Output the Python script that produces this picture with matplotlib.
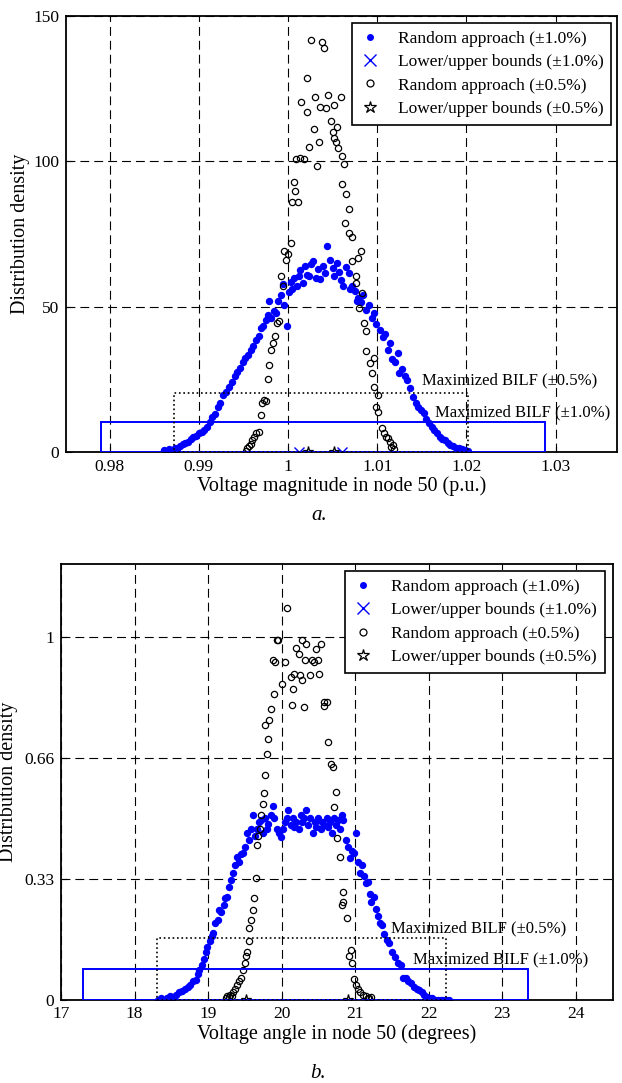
import numpy as np
import matplotlib
matplotlib.use('Agg')
import matplotlib.pyplot as plt
from matplotlib.patches import Rectangle
from matplotlib.lines import Line2D

plt.rcParams['font.family'] = ['Liberation Serif', 'DejaVu Serif']
plt.rcParams['mathtext.fontset'] = 'stix'

# ---- (a) voltage magnitude ------------------------------------------------
mag_rand10_x = [0.9861, 0.9864, 0.9867, 0.9870, 0.9873, 0.9876, 0.9879, 0.9882, 0.9885, 0.9888,
                0.9891, 0.9894, 0.9897, 0.9900, 0.9903, 0.9906, 0.9909, 0.9912, 0.9915, 0.9918,
                0.9921, 0.9924, 0.9927, 0.9930, 0.9934, 0.9937, 0.9940, 0.9943, 0.9946, 0.9949,
                0.9952, 0.9955, 0.9958, 0.9961, 0.9964, 0.9967, 0.9970, 0.9972, 0.9975, 0.9977,
                0.9979, 0.9981, 0.9984, 0.9987, 0.9989, 0.9992, 0.9994, 0.9996, 0.9999, 1.0001,
                1.0003, 1.0005, 1.0007, 1.0010, 1.0012, 1.0014, 1.0017, 1.0019, 1.0021, 1.0024,
                1.0026, 1.0028, 1.0031, 1.0034, 1.0036, 1.0039, 1.0042, 1.0044, 1.0047, 1.0050,
                1.0052, 1.0055, 1.0057, 1.0059, 1.0062, 1.0065, 1.0068, 1.0070, 1.0072, 1.0075,
                1.0077, 1.0079, 1.0082, 1.0084, 1.0088, 1.0091, 1.0094, 1.0096, 1.0099, 1.0103,
                1.0106, 1.0109, 1.0112, 1.0114, 1.0117, 1.0120, 1.0123, 1.0125, 1.0128, 1.0131,
                1.0134, 1.0137, 1.0140, 1.0143, 1.0146, 1.0149, 1.0152, 1.0155, 1.0158, 1.0161,
                1.0164, 1.0167, 1.0170, 1.0173, 1.0176, 1.0179, 1.0182, 1.0185, 1.0188, 1.0192,
                1.0195, 1.0199, 1.0202]
mag_rand10_y = [0.8, 0.3, 1.0, 0.5, 1.5, 1.2, 2.0, 2.6, 3.0, 3.4,
                4.5, 5.0, 5.5, 6.5, 7.0, 7.6, 8.5, 10.5, 12.0, 13.0,
                15.6, 17.0, 19.5, 20.5, 22.5, 24.0, 26.0, 27.5, 29.0, 31.0,
                32.3, 33.5, 35.0, 36.3, 38.5, 40.0, 42.5, 43.2, 45.5, 47.0,
                51.8, 46.0, 48.5, 47.8, 52.0, 54.0, 57.6, 50.5, 43.2, 55.0,
                58.5, 55.9, 60.0, 57.0, 60.5, 62.5, 58.0, 63.9, 61.0, 60.5,
                64.5, 65.6, 60.0, 62.8, 59.5, 64.0, 61.5, 71.0, 66.0, 63.3,
                60.5, 65.0, 62.0, 59.3, 57.0, 63.5, 61.6, 56.0, 57.0, 55.5,
                52.0, 53.0, 51.5, 54.0, 49.0, 50.5, 46.0, 47.8, 44.0, 42.1,
                39.5, 40.5, 35.0, 37.5, 32.0, 31.0, 34.0, 27.1, 28.5, 26.0,
                24.8, 22.0, 19.0, 16.8, 15.5, 14.5, 13.3, 11.5, 10.0, 8.7,
                7.5, 6.5, 5.3, 4.5, 4.0, 3.0, 2.5, 2.0, 1.5, 1.3,
                1.0, 0.7, 0.4]

mag_rand05_x = [0.9953, 0.9954, 0.9956, 0.9958, 0.9960, 0.9962, 0.9964, 0.9968, 0.9970, 0.9971,
                0.9973, 0.9975, 0.9977, 0.9979, 0.9981, 0.9983, 0.9985, 0.9988, 0.9990, 0.9992,
                0.9994, 0.9996, 0.9998, 1.0000, 1.0003, 1.0005, 1.0007, 1.0008, 1.0009, 1.0011,
                1.0013, 1.0015, 1.0018, 1.0021, 1.0021, 1.0023, 1.0026, 1.0029, 1.0030, 1.0032,
                1.0035, 1.0036, 1.0038, 1.0040, 1.0043, 1.0045, 1.0048, 1.0050, 1.0052, 1.0052,
                1.0054, 1.0055, 1.0056, 1.0059, 1.0060, 1.0061, 1.0063, 1.0064, 1.0065, 1.0068,
                1.0068, 1.0072, 1.0072, 1.0076, 1.0076, 1.0079, 1.0080, 1.0082, 1.0083, 1.0085,
                1.0088, 1.0088, 1.0092, 1.0094, 1.0096, 1.0096, 1.0099, 1.0101, 1.0101, 1.0105,
                1.0108, 1.0110, 1.0112, 1.0114, 1.0116, 1.0119, 1.0118]
mag_rand05_y = [0.5, 1.3, 2.0, 2.8, 4.1, 5.0, 6.5, 7.0, 12.8, 17.0,
                17.9, 17.5, 25.0, 30.0, 35.0, 37.5, 40.0, 44.4, 45.0, 60.5,
                57.0, 69.1, 66.0, 68.0, 72.0, 85.8, 92.7, 89.8, 100.9, 86.0,
                101.0, 120.2, 100.9, 116.8, 128.5, 104.7, 141.8, 111.0, 122.2, 98.4,
                106.7, 118.5, 140.9, 139.0, 118.1, 122.8, 113.7, 110.1, 119.3, 108.1,
                106.7, 111.6, 104.5, 122.0, 101.8, 92.1, 99.0, 78.9, 88.6, 83.7,
                75.4, 74.0, 65.6, 60.5, 58.2, 66.8, 49.5, 69.1, 54.7, 44.4,
                41.5, 34.6, 30.6, 27.1, 22.5, 32.3, 15.6, 19.7, 13.9, 8.2,
                6.4, 5.0, 4.7, 3.6, 1.8, 0.9, 2.5]

mag_bounds10 = [1.0012, 1.0061]
mag_bounds05 = [1.0022, 1.0052]
mag_bilf10 = (0.9790, 1.0288, 10.5)   # left, right, height
mag_bilf05 = (0.9872, 1.0202, 20.3)

# ---- (b) voltage angle ----------------------------------------------------
ang_rand10_x = [18.32, 18.36, 18.40, 18.44, 18.48, 18.52, 18.56, 18.60, 18.64, 18.68,
                18.72, 18.75, 18.79, 18.83, 18.86, 18.88, 18.91, 18.94, 18.97, 18.99,
                19.02, 19.05, 19.07, 19.10, 19.13, 19.15, 19.18, 19.21, 19.23, 19.26,
                19.28, 19.31, 19.34, 19.36, 19.39, 19.42, 19.45, 19.48, 19.50, 19.53,
                19.56, 19.58, 19.61, 19.64, 19.66, 19.69, 19.72, 19.75, 19.77, 19.80,
                19.82, 19.85, 19.88, 19.90, 19.93, 19.96, 19.99, 20.02, 20.04, 20.07,
                20.09, 20.12, 20.15, 20.17, 20.20, 20.23, 20.26, 20.28, 20.31, 20.33,
                20.36, 20.39, 20.42, 20.45, 20.47, 20.50, 20.53, 20.55, 20.58, 20.61,
                20.63, 20.66, 20.69, 20.71, 20.74, 20.76, 20.79, 20.82, 20.84, 20.87,
                20.90, 20.93, 20.96, 20.98, 21.01, 21.04, 21.07, 21.09, 21.12, 21.15,
                21.17, 21.20, 21.22, 21.25, 21.28, 21.31, 21.34, 21.36, 21.39, 21.43,
                21.46, 21.50, 21.54, 21.58, 21.62, 21.65, 21.69, 21.72, 21.76, 21.80,
                21.84, 21.87, 21.91, 21.94, 21.97, 22.01, 22.05, 22.08, 22.12, 22.16,
                22.20, 22.24, 22.27]
ang_rand10_y = [0.0, 0.003, 0.0, 0.005, 0.010, 0.008, 0.012, 0.020, 0.024, 0.030,
                0.035, 0.040, 0.050, 0.054, 0.070, 0.081, 0.095, 0.113, 0.130, 0.145,
                0.160, 0.175, 0.182, 0.210, 0.219, 0.247, 0.240, 0.260, 0.280, 0.283,
                0.310, 0.330, 0.348, 0.370, 0.393, 0.380, 0.400, 0.403, 0.420, 0.458,
                0.440, 0.470, 0.508, 0.450, 0.470, 0.490, 0.494, 0.460, 0.500, 0.470,
                0.485, 0.510, 0.533, 0.500, 0.470, 0.460, 0.448, 0.470, 0.490, 0.500,
                0.522, 0.480, 0.500, 0.476, 0.490, 0.470, 0.510, 0.490, 0.500, 0.522,
                0.480, 0.500, 0.460, 0.490, 0.476, 0.500, 0.470, 0.490, 0.480, 0.500,
                0.476, 0.490, 0.460, 0.500, 0.480, 0.494, 0.470, 0.510, 0.494, 0.440,
                0.421, 0.390, 0.410, 0.403, 0.458, 0.380, 0.350, 0.371, 0.340, 0.320,
                0.325, 0.290, 0.270, 0.283, 0.250, 0.230, 0.210, 0.205, 0.180, 0.165,
                0.155, 0.130, 0.118, 0.100, 0.095, 0.058, 0.060, 0.050, 0.045, 0.035,
                0.030, 0.026, 0.020, 0.012, 0.008, 0.005, 0.003, 0.0, 0.0, 0.0,
                0.0, 0.0, 0.0]

ang_rand05_x = [19.24, 19.26, 19.28, 19.30, 19.32, 19.34, 19.37, 19.39, 19.42, 19.45,
                19.48, 19.50, 19.51, 19.53, 19.55, 19.56, 19.58, 19.61, 19.63, 19.65,
                19.66, 19.68, 19.70, 19.72, 19.74, 19.76, 19.78, 19.80, 19.82, 19.78,
                19.83, 19.86, 19.89, 19.88, 19.91, 19.93, 19.95, 20.00, 20.04, 20.07,
                20.12, 20.14, 20.15, 20.17, 20.20, 20.24, 20.25, 20.28, 20.28, 20.30,
                20.32, 20.33, 20.39, 20.41, 20.44, 20.47, 20.50, 20.51, 20.53, 20.57,
                20.58, 20.61, 20.63, 20.67, 20.70, 20.71, 20.74, 20.75, 20.79, 20.82,
                20.84, 20.84, 20.89, 20.91, 20.94, 20.95, 20.98, 21.01, 21.04, 21.06,
                21.10, 21.14, 21.17, 21.19, 21.21]
ang_rand05_y = [0.005, 0.010, 0.008, 0.012, 0.010, 0.020, 0.030, 0.040, 0.050, 0.060,
                0.080, 0.100, 0.120, 0.132, 0.160, 0.196, 0.220, 0.247, 0.280, 0.334,
                0.426, 0.450, 0.470, 0.508, 0.540, 0.568, 0.620, 0.678, 0.717, 0.756,
                0.770, 0.802, 0.842, 0.937, 0.930, 0.990, 0.990, 0.871, 0.930, 1.078,
                0.889, 0.812, 0.855, 0.897, 0.970, 0.952, 0.896, 0.990, 0.880, 0.807,
                0.935, 0.980, 0.895, 0.937, 0.930, 0.965, 0.935, 0.897, 0.980, 0.810,
                0.820, 0.820, 0.710, 0.650, 0.640, 0.531, 0.572, 0.444, 0.392, 0.260,
                0.297, 0.270, 0.224, 0.120, 0.136, 0.100, 0.056, 0.040, 0.030, 0.020,
                0.012, 0.010, 0.005, 0.005, 0.008]

ang_bounds10 = [18.48, 21.97]
ang_bounds05 = [19.51, 20.90]
ang_bilf10 = (17.30, 23.35, 0.084)
ang_bilf05 = (18.31, 22.23, 0.169)

LABELS = ['Random approach (\u00b11.0%)', 'Lower/upper bounds (\u00b11.0%)',
          'Random approach (\u00b10.5%)', 'Lower/upper bounds (\u00b10.5%)']


def draw_panel(ax, r10x, r10y, r05x, r05y, b10, b05, bilf10, bilf05, txt05, txt10):
    ax.plot(r10x, r10y, 'o', color='blue', ms=4.3, mec='blue', lw=0)
    ax.plot(b10, [0, 0], 'x', color='blue', ms=7, mew=1.0, lw=0)
    ax.plot(r05x, r05y, 'o', mfc='none', mec='black', ms=4.5, mew=0.9, lw=0)
    ax.plot(b05, [0, 0], '*', mfc='none', mec='black', ms=8, mew=0.9, lw=0)

    l, r, h = bilf10
    ax.add_patch(Rectangle((l, 0), r - l, h, fill=False, ec='blue', lw=1.4, zorder=3))
    l, r, h = bilf05
    ax.add_patch(Rectangle((l, 0), r - l, h, fill=False, ec='black', lw=1.2, ls=':', zorder=3))

    ax.text(txt05[0], txt05[1], 'Maximized BILF (\u00b10.5%)', fontsize=12, va='center')
    ax.text(txt10[0], txt10[1], 'Maximized BILF (\u00b11.0%)', fontsize=12, va='center')

    ax.grid(True, color='black', ls=(0, (8, 4.5)), lw=0.8)
    ax.set_axisbelow(True)
    for s in ax.spines.values():
        s.set_linewidth(1.3)
    ax.tick_params(direction='in', length=4, labelsize=12.5, pad=5)


fig = plt.figure(figsize=(6.22, 10.83), dpi=100)

ax1 = fig.add_axes([0.1061, 0.5826, 0.8859, 0.4029])
draw_panel(ax1, mag_rand10_x, mag_rand10_y, mag_rand05_x, mag_rand05_y,
           mag_bounds10, mag_bounds05, mag_bilf10, mag_bilf05,
           (1.0150, 24.6), (1.0165, 13.7))
ax1.set_xlim(0.9751, 1.0369)
ax1.set_ylim(0, 150)
ax1.set_xticks([0.98, 0.99, 1.0, 1.01, 1.02, 1.03])
ax1.set_xticklabels(['0.98', '0.99', '1', '1.01', '1.02', '1.03'])
ax1.set_yticks([0, 50, 100, 150])
ax1.set_xlabel('Voltage magnitude in node 50 (p.u.)', fontsize=14.5, labelpad=1)
ax1.set_ylabel('Distribution density', fontsize=14.5)
ax1.yaxis.set_label_coords(-0.065, 0.5)

ax2 = fig.add_axes([0.0981, 0.0771, 0.8869, 0.4019])
draw_panel(ax2, ang_rand10_x, ang_rand10_y, ang_rand05_x, ang_rand05_y,
           ang_bounds10, ang_bounds05, ang_bilf10, ang_bilf05,
           (21.49, 0.196), (21.78, 0.111))
ax2.set_xlim(17, 24.5)
ax2.set_ylim(0, 1.2)
ax2.set_xticks(range(17, 25))
ax2.set_yticks([0, 1 / 3, 2 / 3, 1])
ax2.set_yticklabels(['0', '0.33', '0.66', '1'])
ax2.set_xlabel('Voltage angle in node 50 (degrees)', fontsize=14.5, labelpad=1)
ax2.set_ylabel('Distribution density', fontsize=14.5)
ax2.yaxis.set_label_coords(-0.078, 0.5)

handles = [
    Line2D([0], [0], marker='o', color='blue', ms=4, lw=0),
    Line2D([0], [0], marker='x', color='blue', ms=9, mew=1.0, lw=0),
    Line2D([0], [0], marker='o', mfc='none', mec='black', ms=5, mew=0.9, lw=0),
    Line2D([0], [0], marker='*', mfc='none', mec='black', ms=9, mew=0.9, lw=0),
]
for ax, anchor in ((ax1, (0.9898, 0.984)), (ax2, (0.9855, 0.9846))):
    leg = ax.legend(handles, LABELS, loc='upper right', bbox_to_anchor=anchor,
                    borderaxespad=0, fontsize=12.5, fancybox=False, framealpha=1,
                    edgecolor='black', handlelength=1.2, handletextpad=1.0,
                    labelspacing=0.42, borderpad=0.45)
    leg.get_frame().set_linewidth(1.2)
    leg.set_zorder(5)

fig.text(0.513, 1 - 515 / 1083, 'a.', fontsize=15, style='italic', ha='center', va='center')
fig.text(0.512, 1 - 1073 / 1083, 'b.', fontsize=15, style='italic', ha='center', va='center')

fig.savefig('out.png', dpi=100)
